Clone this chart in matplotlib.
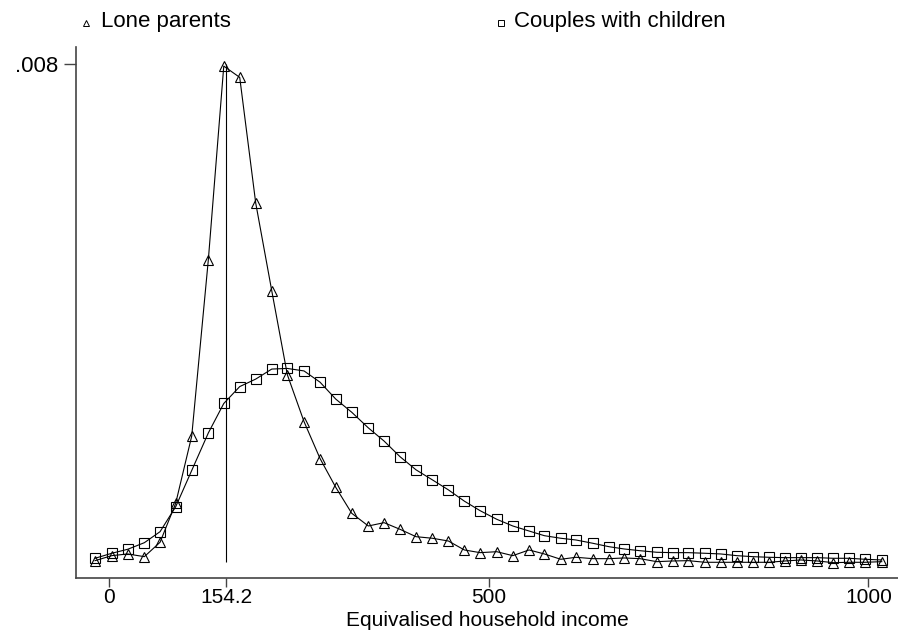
import matplotlib
matplotlib.use('Agg')
import matplotlib.pyplot as plt
from matplotlib.lines import Line2D

plt.rcParams['font.family'] = ['Liberation Sans', 'DejaVu Sans']

# income grid of the kernel density estimates
income = [-18.4, 3.6, 24.6, 46.5, 67.2, 87.8, 108.9, 130.8, 151.1, 172.1,
          193.2, 214.3, 234.8, 256.8, 277.9, 298.6, 319.6, 341.5, 362.2, 383.2,
          404.3, 425.8, 446.9, 467.9, 488.6, 510.6, 531.7, 553.1, 573.3, 594.9,
          615.0, 637.0, 658.5, 678.3, 699.3, 721.3, 742.4, 762.9, 784.9, 805.6,
          826.7, 847.7, 869.2, 890.3, 911.0, 932.8, 953.9, 974.6, 995.7, 1017.6]

lone_parents = [0.000069, 0.000149, 0.000176, 0.000133, 0.000363, 0.000986, 0.00206, 0.00488, 0.00797, 0.00779,
                0.00578, 0.00438, 0.00304, 0.00229, 0.00170, 0.00124, 0.000826, 0.000623, 0.000676, 0.000570,
                0.000452, 0.000427, 0.000383, 0.000240, 0.000197, 0.000212, 0.000149, 0.000240, 0.000176, 0.000091,
                0.000123, 0.000101, 0.000101, 0.000112, 0.000101, 0.000053, 0.000064, 0.000069, 0.000043, 0.000043,
                0.000043, 0.000043, 0.000043, 0.000064, 0.000080, 0.000064, 0.000037, 0.000043, 0.000043, 0.000053]

couples = [0.000107, 0.000187, 0.000251, 0.000356, 0.000532, 0.000931, 0.00151, 0.00211, 0.00258, 0.00285,
           0.00297, 0.00313, 0.00314, 0.00310, 0.00292, 0.00265, 0.00244, 0.00219, 0.00198, 0.00173,
           0.00152, 0.00136, 0.00120, 0.00102, 0.000868, 0.000730, 0.000623, 0.000543, 0.000468, 0.000427,
           0.000399, 0.000347, 0.000292, 0.000256, 0.000228, 0.000203, 0.000197, 0.000197, 0.000187, 0.000176,
           0.000149, 0.000133, 0.000123, 0.000117, 0.000117, 0.000117, 0.000107, 0.000107, 0.000091, 0.000080]

poverty_line = 154.2
xticks = [0, poverty_line, 500, 1000]
xtick_labels = ['0', '154.2', '500', '1000']
yticks = [0.008]
ytick_labels = ['.008']

fs = 16

fig = plt.figure(figsize=(8.98, 6.31), dpi=100)
ax = fig.add_axes([76 / 898, 53 / 631, 822 / 898, 531.3 / 631])

ax.plot(income, lone_parents, color='black', lw=0.8, marker='^', markersize=7.5,
        markerfacecolor='none', markeredgecolor='black', markeredgewidth=0.8)
ax.plot(income, couples, color='black', lw=0.8, marker='s', markersize=7,
        markerfacecolor='none', markeredgecolor='black', markeredgewidth=0.8)
ax.vlines(poverty_line, 0.00004, 0.008, color='black', lw=0.8)

ax.set_xlim(-43.5, 1039)
ax.set_ylim(-0.000208, 0.00828)
ax.set_xticks(xticks)
ax.set_xticklabels(xtick_labels)
ax.set_yticks(yticks)
ax.set_yticklabels(ytick_labels)
ax.tick_params(axis='x', length=6.5, width=1, color='#444444', labelsize=15, pad=0.5)
ax.tick_params(axis='y', length=9, width=1, color='#444444', labelsize=fs, pad=4)

for side in ['top', 'right']:
    ax.spines[side].set_visible(False)
for side in ['left', 'bottom']:
    ax.spines[side].set_color('#444444')
    ax.spines[side].set_linewidth(1.2)

# x title sits right at the bottom edge, as in the original
fig.text(ax.get_position().x0 + ax.get_position().width / 2, 0.5 / 631,
         'Equivalised household income', fontsize=15, ha='center', va='bottom')

# legend across the top
fig.add_artist(Line2D([86 / 898], [1 - 23 / 631], transform=fig.transFigure, marker='^',
                      markersize=5, markerfacecolor='none', markeredgecolor='black', markeredgewidth=0.7))
fig.text(101 / 898, 1 - 22 / 631, 'Lone parents', fontsize=fs, va='center')
fig.add_artist(Line2D([501 / 898], [1 - 23 / 631], transform=fig.transFigure, marker='s',
                      markersize=5, markerfacecolor='none', markeredgecolor='black', markeredgewidth=0.7))
fig.text(514 / 898, 1 - 22 / 631, 'Couples with children', fontsize=fs, va='center')

fig.savefig('out.png', dpi=100)
plt.close()
